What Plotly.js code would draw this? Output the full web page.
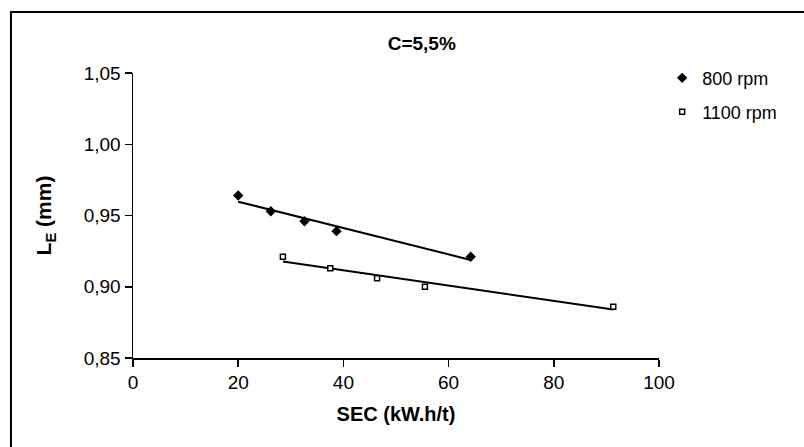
<!DOCTYPE html>
<html>
<head>
<meta charset="utf-8">
<script src="https://cdn.plot.ly/plotly-3.0.1.min.js"></script>
<style>html,body{margin:0;padding:0;background:#fff;}#chart{width:804px;height:447px;}</style>
</head>
<body>
<div id="chart"></div>
<script>
const sec800 = [20.0, 26.2, 32.6, 38.7, 64.2];
const le800 = [0.964, 0.953, 0.946, 0.939, 0.921];
const sec1100 = [28.5, 37.5, 46.4, 55.5, 91.3];
const le1100 = [0.921, 0.913, 0.906, 0.900, 0.886];
const seriesNames = ['800 rpm', '1100 rpm'];
const xTicks = [0, 20, 40, 60, 80, 100];
const yTicks = [0.85, 0.90, 0.95, 1.00, 1.05];

function fit(xs, ys) {
  const n = xs.length;
  const mx = xs.reduce((a, b) => a + b, 0) / n;
  const my = ys.reduce((a, b) => a + b, 0) / n;
  let sxy = 0, sxx = 0;
  for (let i = 0; i < n; i++) { sxy += (xs[i] - mx) * (ys[i] - my); sxx += (xs[i] - mx) ** 2; }
  const b = sxy / sxx, a = my - b * mx;
  const x0 = Math.min(...xs), x1 = Math.max(...xs);
  return { x: [x0, x1], y: [a + b * x0, a + b * x1] };
}
const t800 = fit(sec800, le800);
const t1100 = fit(sec1100, le1100);

const font = 'Liberation Sans, Arial, sans-serif';
const data = [
  { x: t800.x, y: t800.y, mode: 'lines', line: { color: '#000', width: 2 }, showlegend: false, hoverinfo: 'skip' },
  { x: t1100.x, y: t1100.y, mode: 'lines', line: { color: '#000', width: 2 }, showlegend: false, hoverinfo: 'skip' },
  { x: sec800, y: le800, mode: 'markers', name: seriesNames[0], legend: 'legend',
    marker: { symbol: 'diamond', size: 8, color: '#000' } },
  { x: sec1100, y: le1100, mode: 'markers', name: seriesNames[1], legend: 'legend2',
    marker: { symbol: 'square', size: 5, color: '#fff', line: { color: '#000', width: 1.5 } } }
];

const legendCommon = { xanchor: 'left', yanchor: 'middle', font: { family: font, size: 18 }, bgcolor: 'rgba(0,0,0,0)', itemwidth: 30 };
const layout = {
  width: 804, height: 447,
  margin: { l: 133, r: 145, t: 73, b: 89 },
  paper_bgcolor: '#fff', plot_bgcolor: '#fff',
  separators: ', ',
  font: { family: font, color: '#000', size: 19 },
  title: { text: '<b>C=5,5%</b>', font: { family: font, size: 19, color: '#000' }, x: 0.549, xref: 'paper', xanchor: 'center', y: 0.903, yref: 'container', yanchor: 'middle' },
  xaxis: {
    range: [0, 100], tickvals: xTicks, ticktext: xTicks.map(String),
    showline: true, linecolor: '#000', linewidth: 1.5, ticks: 'outside', ticklen: 7, tickwidth: 1.5, tickcolor: '#000',
    showgrid: false, zeroline: false, tickfont: { family: font, size: 19 },
    title: { text: '<b>SEC (kW.h/t)</b>', font: { family: font, size: 20 }, standoff: 14 }
  },
  yaxis: {
    range: [0.85, 1.05], tickvals: yTicks, tickformat: '.2f',
    showline: true, linecolor: '#000', linewidth: 1.5, ticks: 'outside', ticklen: 7, tickwidth: 1.5, tickcolor: '#000',
    showgrid: false, zeroline: false, tickfont: { family: font, size: 19 },
    title: { text: '<b>L<sub>E</sub> (mm)</b>', font: { family: font, size: 21 }, standoff: 26 }
  },
  legend: Object.assign({ x: 1.006, y: 0.982 }, legendCommon),
  legend2: Object.assign({ x: 1.006, y: 0.863 }, legendCommon),
  shapes: [
    { type: 'rect', xref: 'paper', yref: 'paper', x0: -0.232, x1: 1.35, y0: 1.214, y1: -0.35, line: { color: '#000', width: 2 }, fillcolor: 'rgba(0,0,0,0)', layer: 'below' }
  ]
};
Plotly.newPlot('chart', data, layout, { displayModeBar: false, staticPlot: true });
</script>
</body>
</html>
